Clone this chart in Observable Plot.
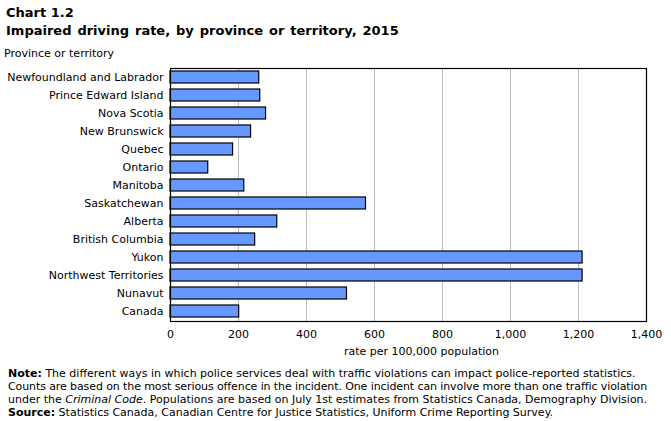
<!DOCTYPE html>
<html>
<head>
<meta charset="utf-8">
<script src="https://cdn.jsdelivr.net/npm/d3@7"></script>
<script src="https://cdn.jsdelivr.net/npm/@observablehq/plot@0.6"></script>
<style>
  body { margin: 0; background: #fff; font-family: "DejaVu Sans", Verdana, sans-serif; color: #000; }
  #wrap { position: relative; width: 671px; height: 421px; overflow: hidden; }
  .t { position: absolute; left: 6px; font-weight: bold; font-size: 13px; white-space: nowrap; }
  #ylab { position: absolute; left: 4px; top: 47px; font-size: 11px; }
  #chart { position: absolute; left: 0; top: 60px; }
  #chart svg { display: block; }
  #notes { position: absolute; left: 8px; top: 367px; font-size: 11px; line-height: 13px; width: 665px; white-space: nowrap; }
</style>
</head>
<body>
<div id="wrap">
  <div class="t" style="top:5px">Chart 1.2</div>
  <div class="t" style="top:23px; word-spacing:1.4px">Impaired driving rate, by province or territory, 2015</div>
  <div id="ylab">Province or territory</div>
  <div id="chart"></div>
  <div id="notes">
    <div><b>Note:</b> The different ways in which police services deal with traffic violations can impact police-reported statistics.</div>
    <div style="letter-spacing:-0.1px">Counts are based on the most serious offence in the incident. One incident can involve more than one traffic violation</div>
    <div>under the <i>Criminal Code</i>. Populations are based on July 1st estimates from Statistics Canada, Demography Division.</div>
    <div><b>Source:</b> Statistics Canada, Canadian Centre for Justice Statistics, Uniform Crime Reporting Survey.</div>
  </div>
</div>
<script>
const regions = ["Newfoundland and Labrador", "Prince Edward Island", "Nova Scotia", "New Brunswick", "Quebec", "Ontario", "Manitoba", "Saskatchewan", "Alberta", "British Columbia", "Yukon", "Northwest Territories", "Nunavut", "Canada"];
const rates = [261, 264, 281, 237, 184, 111, 217, 575, 314, 249, 1212, 1212, 519, 202];
const xTicks = [0, 200, 400, 600, 800, 1000, 1200, 1400];
const xTitle = "rate per 100,000 population";

const data = regions.map((r, i) => ({region: r, rate: rates[i]}));

const chart = Plot.plot({
  width: 671,
  height: 301,
  marginLeft: 170,
  marginRight: 25,
  marginTop: 8,
  marginBottom: 40,
  style: {fontFamily: "DejaVu Sans, Verdana, sans-serif", fontSize: "11px", color: "#000", background: "#fff"},
  x: {domain: [0, 1400], ticks: xTicks, tickFormat: d3.format(","), label: null},
  y: {domain: regions, label: null, paddingInner: 0.33, paddingOuter: 0.18},
  marks: [
    Plot.gridX(xTicks.filter(d => d > 0 && d < 1400), {stroke: "#bdbdbd", strokeOpacity: 1, strokeWidth: 1}),
    Plot.barX(data, {x: "rate", y: "region", fill: "#6699ff", stroke: "#000", strokeWidth: 1.2}),
    Plot.axisY({tickSize: 0, tickPadding: 7, label: null, fontSize: 11}),
    Plot.axisX({ticks: xTicks, tickSize: 0, tickPadding: 9, tickFormat: d3.format(","), label: null, fontSize: 11}),
    Plot.text([xTitle], {text: d => d, frameAnchor: "bottom", dx: 13, dy: 33, fontSize: 11, fill: "#000"}),
    Plot.frame({stroke: "#000", strokeWidth: 1.2})
  ]
});
document.getElementById("chart").appendChild(chart);
</script>
</body>
</html>
